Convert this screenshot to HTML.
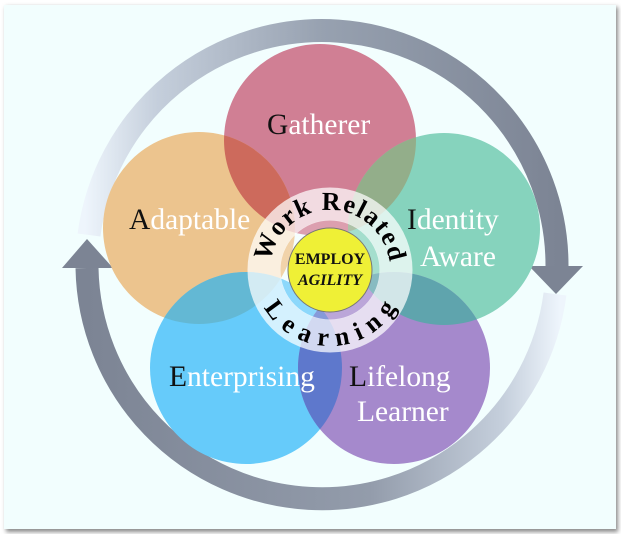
<!DOCTYPE html>
<html><head><meta charset="utf-8"><style>
html,body{margin:0;padding:0;width:621px;height:534px;overflow:hidden;background:#fff}
svg{display:block}
</style></head><body>
<svg width="621" height="534" viewBox="0 0 621 534" xmlns="http://www.w3.org/2000/svg">
<defs>
<filter id="sh" x="-5%" y="-5%" width="110%" height="110%"><feGaussianBlur stdDeviation="2"/></filter>
<linearGradient id="gTop" gradientUnits="userSpaceOnUse" x1="85" y1="200" x2="560" y2="200">
<stop offset="0" stop-color="#eef5fc"/><stop offset="0.15" stop-color="#c5cfdc"/><stop offset="0.5" stop-color="#97a1b0"/><stop offset="1" stop-color="#7c8494"/></linearGradient>
<linearGradient id="gBot" gradientUnits="userSpaceOnUse" x1="560" y1="300" x2="85" y2="300">
<stop offset="0" stop-color="#eef5fc"/><stop offset="0.12" stop-color="#c5cfdc"/><stop offset="0.4" stop-color="#939cab"/><stop offset="1" stop-color="#7c8494"/></linearGradient>
<clipPath id="cG"><circle cx="320" cy="140" r="96"/></clipPath>
<clipPath id="cA"><circle cx="199" cy="228" r="96"/></clipPath>
<clipPath id="cI"><circle cx="444" cy="229" r="96"/></clipPath>
<clipPath id="cE"><circle cx="246" cy="368" r="96"/></clipPath>
<clipPath id="cL"><circle cx="394" cy="368" r="96"/></clipPath>
<path id="pTop" d="M 270 270 A 60 60 0 0 1 390 270"/>
<path id="pBot" d="M 254 270 A 76 76 0 0 0 406 270"/>
</defs>
<rect x="6" y="7" width="612" height="525" fill="#8a8a8a" filter="url(#sh)"/>
<rect x="4" y="5" width="612" height="524" fill="#f2fefe"/>

<path d="M 89 235 A 235 235 0 0 1 557 267" fill="none" stroke="url(#gTop)" stroke-width="23"/>
<polygon points="529,266 583,266 556,294" fill="#7c8494"/>
<path d="M 555 294 A 235 235 0 0 1 87 268" fill="none" stroke="url(#gBot)" stroke-width="23"/>
<polygon points="62,268 113,268 87,239" fill="#7c8494"/>

<circle cx="320" cy="140" r="96" fill="#d07f94"/>
<circle cx="199" cy="228" r="96" fill="#ecc48e"/>
<circle cx="444" cy="229" r="96" fill="#86d3bd"/>
<circle cx="246" cy="368" r="96" fill="#66cbfa"/>
<circle cx="394" cy="368" r="96" fill="#a589cc"/>
<circle cx="199" cy="228" r="96" fill="#cd6a5c" clip-path="url(#cG)"/>
<circle cx="444" cy="229" r="96" fill="#93ae8a" clip-path="url(#cG)"/>
<circle cx="246" cy="368" r="96" fill="#63b8d4" clip-path="url(#cA)"/>
<circle cx="394" cy="368" r="96" fill="#5fa4ad" clip-path="url(#cI)"/>
<circle cx="394" cy="368" r="96" fill="#5e78cc" clip-path="url(#cE)"/>

<g font-family="Liberation Serif, serif" font-size="29.5" fill="#ffffff">
<text x="267" y="134"><tspan fill="#111">G</tspan>atherer</text>
<text x="129" y="229"><tspan fill="#111">A</tspan>daptable</text>
<text x="407" y="229"><tspan fill="#111">I</tspan>dentity</text>
<text x="420" y="266">Aware</text>
<text x="169" y="386"><tspan fill="#111">E</tspan>nterprising</text>
<text x="349" y="386"><tspan fill="#111">L</tspan>ifelong</text>
<text x="357" y="421">Learner</text>
</g>

<circle cx="330" cy="270" r="66" fill="none" stroke="#ffffff" stroke-opacity="0.72" stroke-width="33"/>
<circle cx="330" cy="270" r="46" fill="none" stroke="#ffffff" stroke-opacity="0.25" stroke-width="8"/>
<circle cx="330" cy="270" r="42" fill="#eff036" stroke="#777" stroke-width="1"/>
<text font-family="Liberation Serif, serif" font-weight="bold" font-size="26" fill="#000"><textPath href="#pTop" startOffset="50%" text-anchor="middle" textLength="172" lengthAdjust="spacing">Work Related</textPath></text>
<text font-family="Liberation Serif, serif" font-weight="bold" font-size="26" fill="#000"><textPath href="#pBot" startOffset="50%" text-anchor="middle" textLength="160" lengthAdjust="spacing">Learning</textPath></text>
<text x="330" y="264" text-anchor="middle" font-family="Liberation Serif, serif" font-weight="bold" font-size="16" fill="#111">EMPLOY</text>
<text x="330" y="285" text-anchor="middle" font-family="Liberation Serif, serif" font-weight="bold" font-style="italic" font-size="16" fill="#111">AGILITY</text>
</svg>
</body></html>
